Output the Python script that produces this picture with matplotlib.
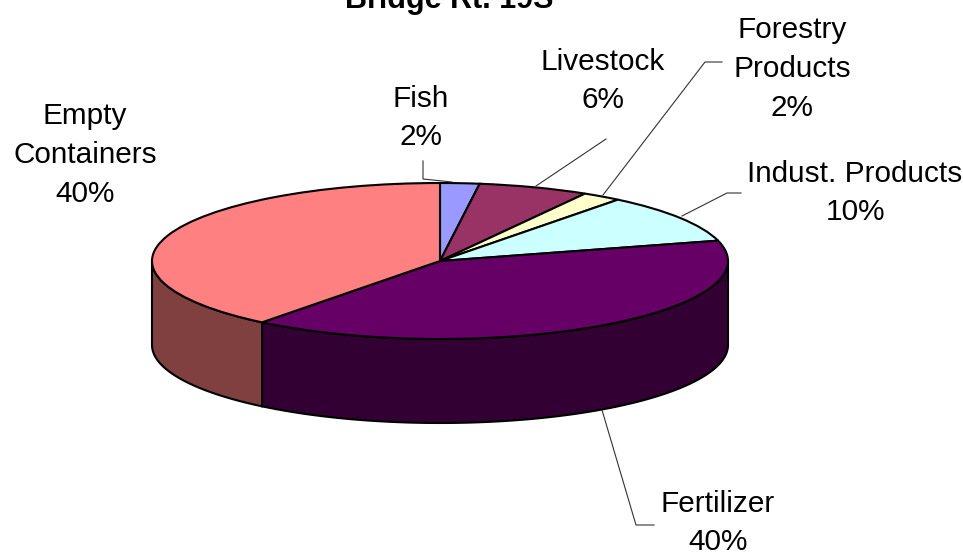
import numpy as np
import matplotlib
matplotlib.use("Agg")
import matplotlib.pyplot as plt
from matplotlib.lines import Line2D

plt.rcParams['font.family'] = ['Liberation Sans', 'DejaVu Sans']

W, H = 963, 557
title = "Bridge Rt. 19S"
categories = ["Fish", "Livestock", "Forestry\nProducts", "Indust. Products", "Fertilizer", "Empty\nContainers"]
values = [2.2, 6.2, 2.2, 10.2, 39.8, 39.4]
percent_labels = ["2%", "6%", "2%", "10%", "40%", "40%"]
top_colors = ["#9999FF", "#993366", "#FFFFCC", "#CCFFFF", "#660066", "#FF8080"]
side_colors = ["#4D4D80", "#4D1A33", "#808066", "#668080", "#330033", "#804040"]

# layout in pixels
label_pos = [(421, 118), (603, 81), (792, 69), (855, 193), (718, 523), (85, 155)]
leaders = [
    [(423, 161), (423, 179), (452, 182)],
    [(606, 139), (536, 186)],
    [(722, 62), (705, 62), (603, 195)],
    [(741, 193), (727, 193), (682, 216)],
    [(654, 525), (636, 525), (602, 410)],
]
left, right, top, bottom = 152, 728, 183, 339
depth = 84 / 78  # wall height in units of the vertical radius

fig = plt.figure(figsize=(W / 100, H / 100), dpi=100, facecolor="white")
ax = fig.add_axes([left / W, 1 - bottom / H, (right - left) / W, (bottom - top) / H])

wedges, _ = ax.pie(values, colors=top_colors, startangle=90, counterclock=False,
                   wedgeprops=dict(edgecolor="black", linewidth=1.5, zorder=3))
ax.set_aspect("auto")
ax.set_xlim(-1, 1)
ax.set_ylim(-1, 1)
for w in wedges:
    w.set_clip_on(False)

edges = np.cumsum([0] + values) / sum(values) * 360
for i in range(len(values)):
    a0, a1 = max(edges[i], 90), min(edges[i + 1], 270)
    if a1 <= a0:
        continue
    th = np.radians(np.linspace(a0, a1, 120))
    x, y = np.sin(th), np.cos(th)
    ax.fill(np.r_[x, x[::-1]], np.r_[y, y[::-1] - depth], facecolor=side_colors[i],
            edgecolor="black", linewidth=1.5, zorder=2, clip_on=False)

def px(p):
    return p[0] / W, 1 - p[1] / H

for pts in leaders:
    f = [px(p) for p in pts]
    fig.add_artist(Line2D([a for a, _ in f], [b for _, b in f], color="#333333", linewidth=0.8))

for cat, pct, pos in zip(categories, percent_labels, label_pos):
    fx, fy = px(pos)
    fig.text(fx, fy, f"{cat}\n{pct}", ha="center", va="center", ma="center",
             fontsize=21.4, linespacing=1.49, color="black")

fig.text(449 / W, 1 - 8 / H, title, ha="center", va="baseline", fontsize=22, fontweight="bold")

fig.savefig("out.png", dpi=100)
